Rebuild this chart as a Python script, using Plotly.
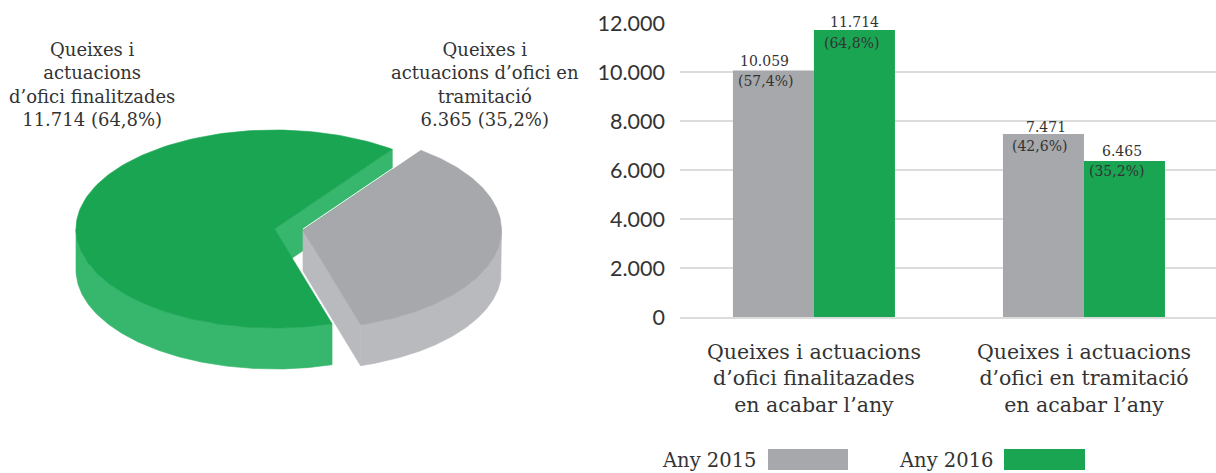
import numpy as np
import plotly.graph_objects as go

# ---- data ----
pie_labels = ["Queixes i<br>actuacions<br>d’ofici finalitzades<br>11.714 (64,8%)",
              "Queixes i<br>actuacions d’ofici en<br>tramitació<br>6.365 (35,2%)"]
pie_values = [11714, 6365]
categories = ["Queixes i actuacions<br>d’ofici finalitazades<br>en acabar l’any",
              "Queixes i actuacions<br>d’ofici en tramitació<br>en acabar l’any"]
values_2015 = [10059, 7471]
values_2016 = [11714, 6365]
labels_2015 = ["10.059", "7.471"]
pcts_2015 = ["(57,4%)", "(42,6%)"]
labels_2016 = ["11.714", "6.465"]
pcts_2016 = ["(64,8%)", "(35,2%)"]
y_ticks = [0, 2000, 4000, 6000, 8000, 10000, 12000]
series_names = ["Any 2015", "Any 2016"]

# ---- style ----
W, H = 1216, 473
GRAY, GRAY_SIDE = "#a7a8ab", "#b9babe"
GREEN, GREEN_SIDE = "#1aa553", "#37b76d"
TEXT = "#333333"
SERIF = "DejaVu Serif"
SANS = "Lato"

fig = go.Figure()

# ---- tilted pie, geometry derived from the values ----
RX, RY, DEPTH = 198.5, 99.0, 41.0
START = 53.6
green_sweep = 360.0 * pie_values[0] / sum(pie_values)
gray_sweep = 360.0 * pie_values[1] / sum(pie_values)
GREEN_C = (274.5, 229.0)
GRAY_C = (303.0, 230.0)


def arc(c, a0, a1, dz=0.0, n=160):
    t = np.radians(np.linspace(a0, a1, n))
    return c[0] + RX * np.cos(t), c[1] - RY * np.sin(t) + dz


def poly(xs, ys, color, line=None):
    fig.add_trace(go.Scatter(
        x=list(xs), y=list(ys), xaxis="x2", yaxis="y2", mode="lines", fill="toself",
        fillcolor=color, line=dict(color=line or color, width=0.6),
        hoverinfo="skip", showlegend=False))


def wall(c, a0, a1, color):
    x0, y0 = arc(c, a0, a1)
    x1, y1 = arc(c, a1, a0, DEPTH)
    poly(np.r_[x0, x1, x0[0]], np.r_[y0, y1, y0[0]], color)


green_end = START + green_sweep          # runs counter-clockwise through the left side
gray_end = START - gray_sweep            # runs clockwise through the right side

# green: inner cut face, then outer wall
sx, sy = arc(GREEN_C, START, START, n=1)
poly([GREEN_C[0], sx[0], sx[0], GREEN_C[0], GREEN_C[0]],
     [GREEN_C[1], sy[0], sy[0] + DEPTH, GREEN_C[1] + DEPTH, GREEN_C[1]], GREEN_SIDE)
wall(GREEN_C, 180, green_end, GREEN_SIDE)

# gray: cut face, outer wall, top
ex, ey = arc(GRAY_C, gray_end, gray_end, n=1)
poly([GRAY_C[0], ex[0], ex[0], GRAY_C[0], GRAY_C[0]],
     [GRAY_C[1], ey[0], ey[0] + DEPTH, GRAY_C[1] + DEPTH, GRAY_C[1]], GRAY_SIDE)
wall(GRAY_C, gray_end, 0, GRAY_SIDE)
ax, ay = arc(GRAY_C, START, gray_end)
poly(np.r_[GRAY_C[0], ax, GRAY_C[0]], np.r_[GRAY_C[1], ay, GRAY_C[1]], GRAY)
gsx, gsy = arc(GRAY_C, START, START, n=1)
fig.add_trace(go.Scatter(x=[GRAY_C[0], gsx[0]], y=[GRAY_C[1] - 1, gsy[0] - 1], xaxis="x2", yaxis="y2",
                         mode="lines", line=dict(color="#ffffff", width=1),
                         hoverinfo="skip", showlegend=False))

# green top
ax, ay = arc(GREEN_C, START, green_end)
poly(np.r_[GREEN_C[0], ax, GREEN_C[0]], np.r_[GREEN_C[1], ay, GREEN_C[1]], GREEN)

# ---- grouped bars ----
fig.add_trace(go.Bar(x=categories, y=values_2015, name=series_names[0], marker_color=GRAY,
                     marker_line_width=0, hoverinfo="x+y"))
fig.add_trace(go.Bar(x=categories, y=values_2016, name=series_names[1], marker_color=GREEN,
                     marker_line_width=0, hoverinfo="x+y"))

ann = []


def txt(x, y, s, size, family=SERIF, xref="paper", yref="paper", xs=0, ys=0):
    ann.append(dict(x=x, y=y, text=s, xref=xref, yref=yref, showarrow=False, xanchor="center",
                    yanchor="middle", xshift=xs, yshift=ys,
                    font=dict(size=size, family=family, color=TEXT)))


# bar labels: tied to bar heights, offset in pixels
for i, (v, a, b) in enumerate(zip(values_2015, labels_2015, pcts_2015)):
    cx = i - 0.15
    txt(cx, v, a, 14, xref="x", yref="y", xs=[-9, 3][i], ys=[10, 7][i])
    txt(cx, v, b, 14, xref="x", yref="y", xs=[-8, -4][i], ys=[-10, -12][i])
for i, (v, a, b) in enumerate(zip(values_2016, labels_2016, pcts_2016)):
    cx = i + 0.15
    txt(cx, v, a, 14, xref="x", yref="y", xs=[0, -2][i], ys=[8, 10][i])
    txt(cx, v, b, 14, xref="x", yref="y", xs=[-3, -8][i], ys=[-13, -10][i])

# pie labels
ann.append(dict(x=92 / W, y=1 - 84 / H, text=pie_labels[0], xref="paper", yref="paper",
                showarrow=False, align="center", xanchor="center", yanchor="middle",
                font=dict(size=18, family=SERIF, color=TEXT)))
ann.append(dict(x=485 / W, y=1 - 84 / H, text=pie_labels[1], xref="paper", yref="paper",
                showarrow=False, align="center", xanchor="center", yanchor="middle",
                font=dict(size=18, family=SERIF, color=TEXT)))

# legend row
txt(709 / W, 1 - 460 / H, series_names[0], 19.5)
txt(946 / W, 1 - 460 / H, series_names[1], 19.5)
shapes = [
    dict(type="rect", xref="paper", yref="paper", x0=768 / W, x1=848 / W,
         y0=1 - 470 / H, y1=1 - 449 / H, fillcolor=GRAY, line_width=0),
    dict(type="rect", xref="paper", yref="paper", x0=1004 / W, x1=1085 / W,
         y0=1 - 470 / H, y1=1 - 449 / H, fillcolor=GREEN, line_width=0),
]

fig.update_layout(
    width=W, height=H, autosize=False,
    margin=dict(l=0, r=0, t=0, b=0, pad=0, autoexpand=False),
    paper_bgcolor="white", plot_bgcolor="rgba(0,0,0,0)",
    barmode="group", bargap=0.4, bargroupgap=0,
    separators=",.",
    showlegend=False,
    annotations=ann, shapes=shapes,
    xaxis=dict(domain=[680 / W, 1], range=[-0.496, 1.489], type="category",
               showgrid=False, showline=True, linecolor="#dcdcdc", linewidth=2,
               ticks="", ticklabelstandoff=15, zeroline=False, automargin=False,
               tickfont=dict(size=20.5, family=SERIF, color=TEXT)),
    yaxis=dict(domain=[(H - 317) / H, (H - 23) / H], range=[0, 12000], tickvals=y_ticks,
               tickformat=",d", showgrid=True, gridcolor="#dcdcdc", gridwidth=2,
               zeroline=False, showline=False, ticks="", ticklabelstandoff=14, automargin=False,
               tickfont=dict(size=21.5, family=SANS, color=TEXT)),
    xaxis2=dict(domain=[0, 1], range=[0, W], visible=False, anchor="y2", fixedrange=True),
    yaxis2=dict(domain=[0, 1], range=[H, 0], visible=False, anchor="x2", fixedrange=True),
)

fig.write_html("out.html", config={"displayModeBar": False},
               post_script="document.body.style.margin='0';")
